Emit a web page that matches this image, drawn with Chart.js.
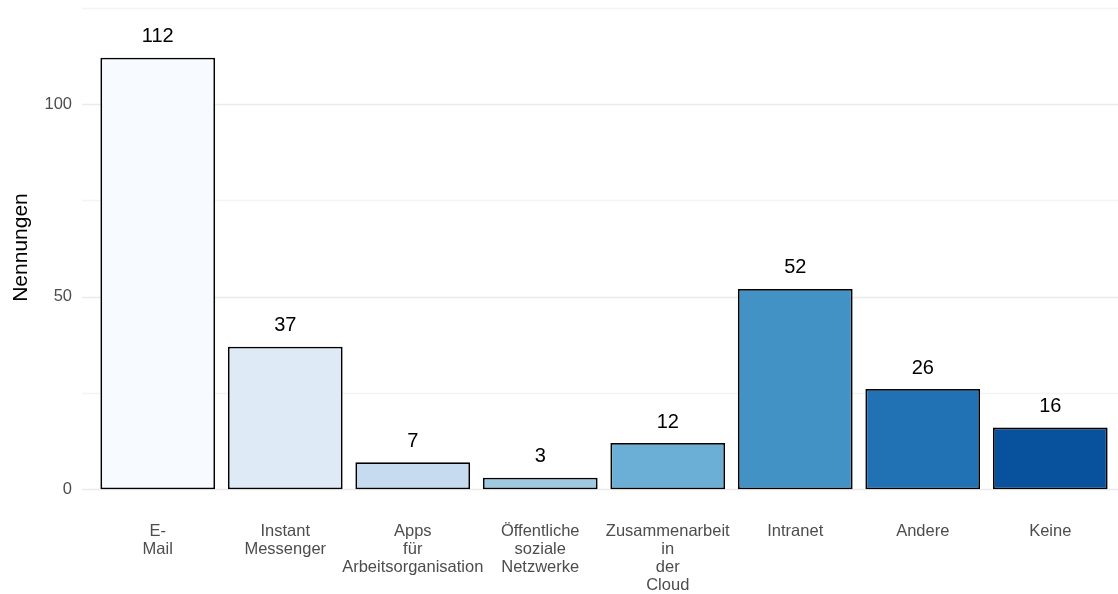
<!DOCTYPE html>
<html>
<head>
<meta charset="utf-8">
<script src="https://cdn.jsdelivr.net/npm/chart.js@4.4.1/dist/chart.umd.min.js"></script>
<style>
  html, body { margin: 0; padding: 0; background: #fff; }
  #wrap { width: 1118px; height: 594px; }
</style>
</head>
<body>
<div id="wrap"><canvas id="grafico"></canvas></div>
<script>
// Datos
const kategorien = [
    ["E-", "Mail"],
    ["Instant", "Messenger"],
    ["Apps", "für", "Arbeitsorganisation"],
    ["Öffentliche", "soziale", "Netzwerke"],
    ["Zusammenarbeit", "in", "der", "Cloud"],
    ["Intranet"],
    ["Andere"],
    ["Keine"]
];
const nennungen = [112, 37, 7, 3, 12, 52, 26, 16];
const farben = ['#F7FBFF', '#DEEBF7', '#C6DBEF', '#9ECAE1', '#6BAED6', '#4292C6', '#2171B5', '#08519C'];
const yTicks = [0, 50, 100];
const yGitter = [0, 25, 50, 75, 100, 125];

Chart.defaults.font.family = "'Liberation Sans', Arial, sans-serif";

// Gitterlinien über die ganze Panelbreite
const gitterPlugin = {
    id: 'gitter',
    beforeDatasetsDraw(chart) {
        const ctx = chart.ctx;
        const y = chart.scales.y;
        ctx.save();
        yGitter.forEach(v => {
            const py = Math.round(y.getPixelForValue(v)) + 0.5;
            ctx.strokeStyle = (v % 50 === 0) ? '#ebebeb' : '#f4f4f4';
            ctx.lineWidth = 1.5;
            ctx.beginPath();
            ctx.moveTo(82, py);
            ctx.lineTo(1118, py);
            ctx.stroke();
        });
        ctx.restore();
    }
};

// Werte über den Balken
const wertePlugin = {
    id: 'werte',
    afterDatasetsDraw(chart) {
        const ctx = chart.ctx;
        const meta = chart.getDatasetMeta(0);
        ctx.save();
        ctx.fillStyle = '#000';
        ctx.font = "20px 'Liberation Sans', Arial, sans-serif";
        ctx.textAlign = 'center';
        ctx.textBaseline = 'middle';
        meta.data.forEach((bar, i) => {
            ctx.fillText(String(nennungen[i]), bar.x, bar.y - 21);
        });
        ctx.restore();
    }
};

const ctx = document.getElementById('grafico').getContext('2d');
new Chart(ctx, {
    type: 'bar',
    data: {
        labels: kategorien,
        datasets: [{
            data: nennungen,
            backgroundColor: farben,
            borderColor: '#000',
            borderWidth: 1.8,
            borderSkipped: false,
            barPercentage: 0.9,
            categoryPercentage: 1.0
        }]
    },
    options: {
        responsive: true,
        maintainAspectRatio: false,
        animation: false,
        layout: { padding: { top: 0, right: 4, bottom: 0, left: 0 } },
        plugins: {
            legend: { display: false },
            tooltip: { enabled: false }
        },
        scales: {
            x: {
                offset: true,
                grid: { display: false, drawTicks: false },
                border: { display: false },
                afterFit(scale) {
                    scale.height = 99;
                },
                ticks: {
                    color: '#4d4d4d',
                    font: { size: 16.5, lineHeight: '18px' },
                    padding: 27,
                    maxRotation: 0,
                    autoSkip: false
                }
            },
            y: {
                min: -1.5,
                max: 127,
                grid: { display: false, drawTicks: false },
                border: { display: false },
                afterBuildTicks(scale) {
                    scale.ticks = yTicks.map(v => ({ value: v }));
                },
                afterFit(scale) {
                    scale.width = 94;
                    scale.paddingTop = 0;
                    scale.paddingBottom = 0;
                },
                ticks: {
                    color: '#4d4d4d',
                    font: { size: 16.5 },
                    padding: 22
                },
                title: {
                    display: true,
                    text: 'Nennungen',
                    color: '#000',
                    font: { size: 21 },
                    padding: { top: 9, bottom: 0 }
                }
            }
        }
    },
    plugins: [gitterPlugin, wertePlugin]
});
</script>
</body>
</html>
